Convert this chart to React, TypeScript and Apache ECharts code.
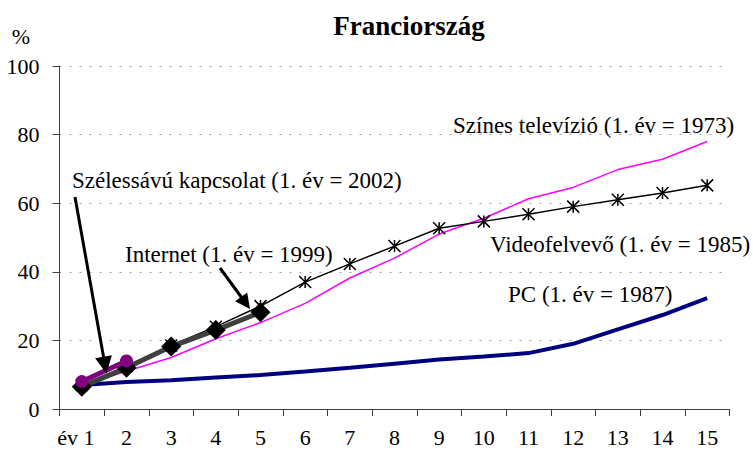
import React, { useEffect, useRef } from "react";
import * as echarts from "echarts";

const categories = ["év 1", "2", "3", "4", "5", "6", "7", "8", "9", "10", "11", "12", "13", "14", "15"];
const pcValues = [7, 7.9, 8.4, 9.2, 9.9, 10.9, 12, 13.2, 14.4, 15.3, 16.3, 19, 23.2, 27.4, 32.3];
const tvValues = [7, 11, 15, 20.5, 25.2, 30.8, 38.2, 44, 51, 55.6, 61.3, 64.6, 69.8, 72.8, 78];
const vcrValues = [7, 12.5, 18.5, 24, 30, 37, 42.3, 47.5, 52.7, 54.7, 56.8, 59, 61, 63, 65.2];
const internetValues = [6.5, 12, 18.2, 23, 28.2];
const broadbandValues = [8, 14];

const seriesNames = {
  tv: "Színes televízió (1. év = 1973)",
  broadband: "Szélessávú kapcsolat (1. év = 2002)",
  internet: "Internet (1. év = 1999)",
  vcr: "Videofelvevő (1. év = 1985)",
  pc: "PC (1. év = 1987)",
};

const FONT = "'Liberation Serif', 'Times New Roman', serif";

function arrow(x1: number, y1: number, tx: number, ty: number, headLen: number, headHalf: number, width: number) {
  const dx = tx - x1;
  const dy = ty - y1;
  const len = Math.sqrt(dx * dx + dy * dy);
  const ux = dx / len;
  const uy = dy / len;
  const bx = tx - ux * headLen;
  const by = ty - uy * headLen;
  const px = -uy;
  const py = ux;
  return [
    {
      type: "line",
      shape: { x1, y1, x2: bx + ux * 2, y2: by + uy * 2 },
      style: { stroke: "#000", lineWidth: width },
      z: 100,
    },
    {
      type: "polygon",
      shape: {
        points: [
          [tx, ty],
          [bx + px * headHalf, by + py * headHalf],
          [bx - px * headHalf, by - py * headHalf],
        ],
      },
      style: { fill: "#000" },
      z: 100,
    },
  ];
}

function label(text: string, x: number, y: number) {
  return {
    type: "text",
    x,
    y,
    z: 100,
    style: {
      text,
      fontFamily: FONT,
      fontSize: 23,
      fill: "#000",
      verticalAlign: "middle",
      align: "left",
    },
  };
}

export default function App() {
  const ref = useRef<HTMLDivElement>(null);
  useEffect(() => {
    if (!ref.current) return;
    const chart = echarts.init(ref.current, undefined, { renderer: "svg" });
    const axisColor = "#404040";
    chart.setOption({
      animation: false,
      backgroundColor: "#fff",
      grid: { left: 59.5, right: 23.5, top: 66, bottom: 43, containLabel: false },
      xAxis: {
        type: "category",
        data: categories,
        boundaryGap: true,
        axisLine: { show: true, lineStyle: { color: axisColor, width: 1 } },
        axisTick: { show: true, length: 7, interval: 0, lineStyle: { color: axisColor } },
        axisLabel: {
          interval: 0,
          margin: 17,
          color: "#000",
          fontFamily: FONT,
          fontSize: 22,
          formatter: (v: string, i: number) => (i === 0 ? `{a|${v}}` : v),
          rich: {
            a: { fontFamily: FONT, fontSize: 22, color: "#000", padding: [0, 12, 0, 0] },
          },
        },
        splitLine: { show: false },
      },
      yAxis: {
        type: "value",
        min: 0,
        max: 100,
        interval: 20,
        axisLine: { show: true, lineStyle: { color: axisColor, width: 1 } },
        axisTick: { show: true, length: 7, lineStyle: { color: axisColor } },
        axisLabel: { margin: 20, color: "#000", fontFamily: FONT, fontSize: 22 },
        splitLine: { show: true, lineStyle: { color: "#a0a0a0", type: [2, 8], width: 1 } },
      },
      series: [
        {
          name: seriesNames.pc,
          type: "line",
          data: pcValues,
          symbol: "none",
          lineStyle: { color: "#000080", width: 4 },
          itemStyle: { color: "#000080" },
          z: 2,
        },
        {
          name: seriesNames.tv,
          type: "line",
          data: tvValues,
          symbol: "none",
          lineStyle: { color: "#FF00FF", width: 1.5 },
          itemStyle: { color: "#FF00FF" },
          z: 3,
        },
        {
          name: seriesNames.vcr,
          type: "line",
          data: vcrValues,
          symbol: "path://M5,0 L5,10 M0,0 L10,10 M10,0 L0,10",
          symbolSize: 12,
          showSymbol: true,
          lineStyle: { color: "#000", width: 1.5 },
          itemStyle: { color: "#000", borderColor: "#000", borderWidth: 1.5 },
          z: 4,
        },
        {
          name: seriesNames.internet,
          type: "line",
          data: internetValues,
          symbol: "diamond",
          symbolSize: 20,
          showSymbol: true,
          lineStyle: { color: "#404040", width: 5 },
          itemStyle: { color: "#000" },
          z: 5,
        },
        {
          name: seriesNames.broadband,
          type: "line",
          data: broadbandValues,
          symbol: "circle",
          symbolSize: 13,
          showSymbol: true,
          lineStyle: { color: "#800080", width: 5 },
          itemStyle: { color: "#800080" },
          z: 6,
        },
      ],
      graphic: [
        {
          type: "text",
          x: 409,
          y: 26,
          style: {
            text: "Franciország",
            fontFamily: FONT,
            fontSize: 27,
            fontWeight: "bold",
            fill: "#000",
            align: "center",
            verticalAlign: "middle",
          },
        },
        {
          type: "text",
          x: 21,
          y: 36,
          style: {
            text: "%",
            fontFamily: FONT,
            fontSize: 22,
            fill: "#000",
            align: "center",
            verticalAlign: "middle",
          },
        },
        label(seriesNames.tv, 453, 125),
        label(seriesNames.broadband, 72, 180),
        label(seriesNames.internet, 125, 254),
        label(seriesNames.vcr, 490, 244),
        label(seriesNames.pc, 508, 294),
        ...arrow(75, 197, 106.5, 373.5, 17, 8.5, 3),
        ...arrow(220, 268, 250, 309, 15, 7.5, 3),
      ],
    });
    return () => chart.dispose();
  }, []);
  return <div ref={ref} style={{ width: 753, height: 452, position: "absolute", left: 0, top: 0 }} />;
}
